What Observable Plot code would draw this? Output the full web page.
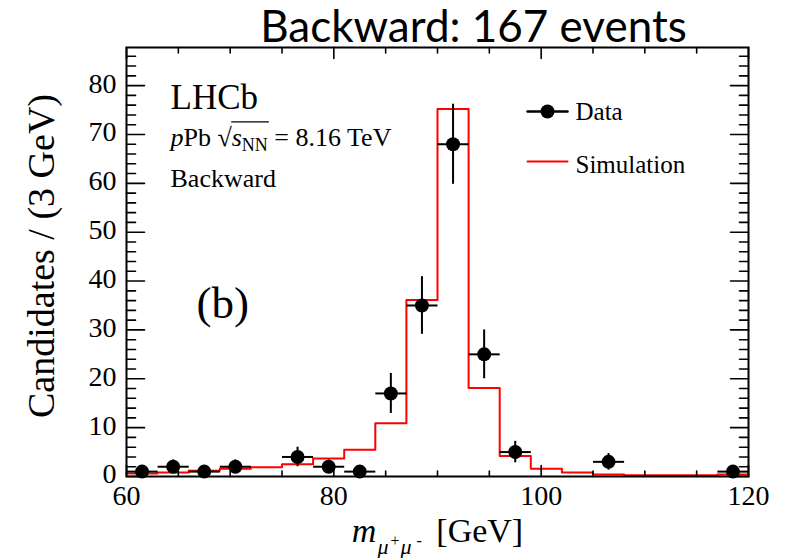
<!DOCTYPE html>
<html><head><meta charset="utf-8">
<script src="https://cdn.jsdelivr.net/npm/d3@7"></script>
<script src="https://cdn.jsdelivr.net/npm/@observablehq/plot@0.6"></script>
<style>
body{margin:0;background:#fff;width:789px;height:558px;overflow:hidden}
#title{height:46px;width:789px;box-sizing:border-box;padding-left:158px;text-align:center;font-family:Lato,"Open Sans",sans-serif;font-size:44px;line-height:50px;color:#000;white-space:nowrap;overflow:visible}
#chart svg{display:block}
</style></head><body>
<div id="title">Backward: 167 events</div>
<div id="chart"></div>
<script>
// ---- data ----
const dataMass  = [61.5, 64.5, 67.5, 70.5, 76.5, 79.5, 82.5, 85.5, 88.5, 91.5, 94.5, 97.5, 106.5, 118.5];
const dataCount = [1, 2, 1, 2, 4, 2, 1, 17, 35, 68, 25, 5, 3, 1];
const dataErr   = [1, 1.4, 1, 1.4, 2, 1.4, 1, 4.1, 5.9, 8.2, 5, 2.2, 1.7, 1];
const binHalfWidth = 1.5;
const simEdges  = [60, 63, 66, 69, 72, 75, 78, 81, 84, 87, 90, 93, 96, 99, 102, 105, 108, 111, 114, 117, 120];
const simValues = [0.6, 0.8, 1.2, 1.6, 1.9, 2.5, 3.7, 5.5, 10.9, 36.1, 75.2, 18.1, 4.2, 1.6, 0.8, 0.4, 0.25, 0.25, 0.25, 0.4];
const xTicksMajor = [60, 80, 100, 120];
const xTicksMinor = [65, 70, 75, 85, 90, 95, 105, 110, 115];
const yTicksMajor = [0, 10, 20, 30, 40, 50, 60, 70, 80];
const yTicksMinor = [2, 4, 6, 8, 12, 14, 16, 18, 22, 24, 26, 28, 32, 34, 36, 38, 42, 44, 46, 48, 52, 54, 56, 58, 62, 64, 66, 68, 72, 74, 76, 78, 82, 84, 86];
const legendLabels = ["Data", "Simulation"];
const yLabel = "Candidates / (3 GeV)";
const xLabelKey = "m mumu [GeV]";
const infoLines = ["LHCb", "pPb sNN = 8.16 TeV", "Backward"];
const panelTag = "(b)";

// ---- tables built from the arrays ----
const dataRows = dataMass.map((m, i) => ({m, c: dataCount[i], e: dataErr[i]}));
const simPoints = simEdges.map((x, i) => ({x, y: simValues[Math.min(i, simValues.length - 1)]}));

const serif = "'Liberation Serif','Times New Roman',serif";
const tickShape = {draw(ctx, l) { ctx.moveTo(0, 0); ctx.lineTo(0, -l); }};
const tk = (data, ch, anchor, rot, len) => Plot.vector(data, {[ch]: d => d, frameAnchor: anchor, rotate: rot, length: len, anchor: "start", shape: tickShape, stroke: "black", strokeWidth: 1.6});

const W = 789, H = 512;
const plot = Plot.plot({
  width: W, height: H,
  marginTop: 1, marginBottom: 82, marginLeft: 126, marginRight: 41,
  style: {fontFamily: serif, fontSize: "28px", background: "white", color: "black", overflow: "visible"},
  x: {domain: [60, 120]},
  y: {domain: [0, 87.8]},
  marks: [
    // simulation histogram
    Plot.line(simPoints, {x: "x", y: "y", curve: "step-after", stroke: "#ff0000", strokeWidth: 2}),
    // data with error bars
    Plot.link(dataRows, {x1: d => d.m - binHalfWidth, x2: d => d.m + binHalfWidth, y1: "c", y2: "c", stroke: "black", strokeWidth: 2}),
    Plot.ruleX(dataRows, {x: "m", y1: d => d.c - d.e, y2: d => d.c + d.e, stroke: "black", strokeWidth: 2}),
    Plot.dot(dataRows, {x: "m", y: "c", r: 7, fill: "black"}),
    // frame & inward ticks
    Plot.frame({stroke: "black", strokeWidth: 2}),
    tk(xTicksMajor, "x", "bottom", 0, 11), tk(xTicksMinor, "x", "bottom", 0, 5.5),
    tk(xTicksMajor, "x", "top", 180, 11), tk(xTicksMinor, "x", "top", 180, 5.5),
    tk(yTicksMajor, "y", "left", 90, 18), tk(yTicksMinor, "y", "left", 90, 9),
    tk(yTicksMajor, "y", "right", -90, 18), tk(yTicksMinor, "y", "right", -90, 9),
    Plot.axisX({ticks: xTicksMajor, tickSize: 0, tickPadding: 9, label: null, tickFormat: d => String(d), fontSize: 28}),
    Plot.axisY({ticks: yTicksMajor, tickSize: 0, tickPadding: 10, dy: -2, label: null, tickFormat: d => String(d), fontSize: 28}),
    // axis titles
    Plot.text([yLabel], {text: d => d, frameAnchor: "left", textAnchor: "middle", rotate: -90, dx: -85, dy: -6, fontSize: 38, fontFamily: serif}),
    Plot.text([xLabelKey], {text: d => d, frameAnchor: "bottom", textAnchor: "middle", lineAnchor: "bottom", dy: 65, fontSize: 34, fontFamily: serif}),
    // annotations
    Plot.text([infoLines[0]], {text: d => d, frameAnchor: "top-left", textAnchor: "start", lineAnchor: "bottom", dx: 44, dy: 61, fontSize: 35, fontFamily: serif}),
    Plot.text([infoLines[1]], {text: d => d, frameAnchor: "top-left", textAnchor: "start", lineAnchor: "bottom", dx: 44, dy: 98, fontSize: 26, fontFamily: serif}),
    Plot.text([infoLines[2]], {text: d => d, frameAnchor: "top-left", textAnchor: "start", lineAnchor: "bottom", dx: 44, dy: 139, fontSize: 26, fontFamily: serif}),
    Plot.text([panelTag], {text: d => d, frameAnchor: "top-left", textAnchor: "start", lineAnchor: "bottom", dx: 70, dy: 270, fontSize: 45, fontFamily: serif}),
    // legend
    Plot.vector([legendLabels[0]], {frameAnchor: "top-right", dx: -201, dy: 64, rotate: 90, length: 40, anchor: "middle", shape: tickShape, stroke: "black", strokeWidth: 2.5}),
    Plot.dot([legendLabels[0]], {frameAnchor: "top-right", dx: -201, dy: 64, r: 7, fill: "black"}),
    Plot.vector([legendLabels[1]], {frameAnchor: "top-right", dx: -201, dy: 114, rotate: 90, length: 40, anchor: "middle", shape: tickShape, stroke: "#ff0000", strokeWidth: 2}),
    Plot.text([legendLabels[0]], {text: d => d, frameAnchor: "top-right", textAnchor: "start", lineAnchor: "bottom", dx: -173, dy: 72, fontSize: 25, fontFamily: serif}),
    Plot.text([legendLabels[1]], {text: d => d, frameAnchor: "top-right", textAnchor: "start", lineAnchor: "bottom", dx: -173, dy: 125, fontSize: 25, fontFamily: serif})
  ]
});
document.getElementById("chart").appendChild(plot);

// rich text (italics, sub/superscripts)
const svg = d3.select(plot);
const findText = key => svg.selectAll("text").filter(function () { return this.textContent === key; });
findText(xLabelKey).html(
  '<tspan font-style="italic">m</tspan>' +
  '<tspan font-size="22" font-style="italic" dy="12" dx="1">μ</tspan>' +
  '<tspan font-size="16" dy="-8" dx="2">+</tspan>' +
  '<tspan font-size="22" font-style="italic" dy="8" dx="1">μ</tspan>' +
  '<tspan font-size="16" dy="-8" dx="5">-</tspan>' +
  '<tspan dy="-4" dx="6" xml:space="preserve"> [GeV]</tspan>');
const sqrtText = findText(infoLines[1]);
sqrtText.html(
  '<tspan font-style="italic">p</tspan>Pb √' +
  '<tspan font-style="italic">s</tspan>' +
  '<tspan font-size="18" dy="5">NN</tspan>' +
  '<tspan dy="-5"> = 8.16 TeV</tspan>');
// overline of the square root, over s_NN
{
  const node = sqrtText.node();
  const p0 = node.getStartPositionOfChar(0);
  const a = node.getEndPositionOfChar(4);   // end of √
  const b = node.getEndPositionOfChar(7);   // end of NN
  const yTop = p0.y - 0.905 * 26;
  d3.select(node.parentNode).append("line")
    .attr("transform", node.getAttribute("transform"))
    .attr("x1", a.x - 0.5).attr("x2", b.x + 1)
    .attr("y1", yTop).attr("y2", yTop)
    .attr("stroke", "black").attr("stroke-width", 1.2);
}
</script>
</body></html>
